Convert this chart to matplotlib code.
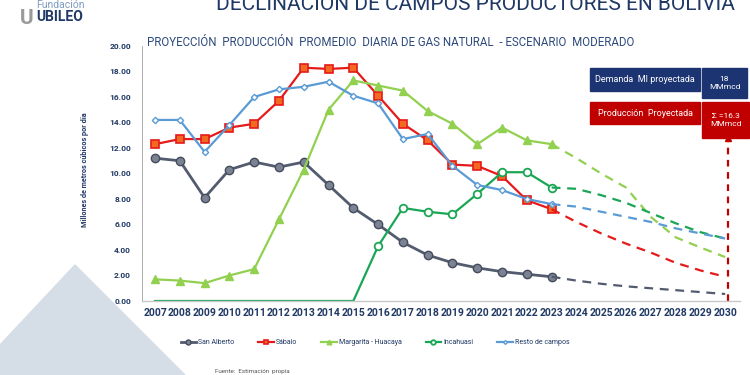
import matplotlib.pyplot as plt
from matplotlib.patches import Rectangle, Polygon

plt.rcParams['font.family'] = ['Roboto', 'DejaVu Sans']
plt.rcParams['font.stretch'] = 'condensed'

# datos historicos 2007-2023
years = list(range(2007, 2024))
san_alberto = [11.2, 11.0, 8.1, 10.3, 10.9, 10.5, 10.9, 9.1, 7.3, 6.0, 4.6, 3.6, 3.0, 2.6, 2.3, 2.1, 1.9]
sabalo = [12.3, 12.7, 12.7, 13.6, 13.9, 15.7, 18.3, 18.2, 18.3, 16.1, 13.9, 12.6, 10.7, 10.6, 9.8, 7.9, 7.2]
margarita = [1.7, 1.6, 1.4, 2.0, 2.5, 6.4, 10.3, 15.0, 17.3, 16.9, 16.5, 14.9, 13.9, 12.3, 13.6, 12.6, 12.3]
incahuasi = [0.0, 0.0, 0.0, 0.0, 0.0, 0.0, 0.0, 0.0, 0.0, 4.3, 7.3, 7.0, 6.8, 8.4, 10.1, 10.1, 8.9]
resto = [14.2, 14.2, 11.7, 13.8, 16.0, 16.6, 16.8, 17.2, 16.1, 15.5, 12.7, 13.1, 10.6, 9.1, 8.7, 8.0, 7.6]

# proyeccion 2023-2030
proj_years = list(range(2023, 2031))
san_alberto_p = [1.9, 1.6, 1.35, 1.15, 1.0, 0.85, 0.7, 0.55]
sabalo_p = [7.2, 6.2, 5.3, 4.5, 3.8, 3.0, 2.4, 1.9]
margarita_p = [12.3, 11.2, 10.0, 8.9, 6.6, 5.0, 4.2, 3.45]
incahuasi_p = [8.9, 8.8, 8.3, 7.7, 6.9, 6.1, 5.4, 4.9]
resto_p = [7.6, 7.4, 7.0, 6.6, 6.2, 5.7, 5.3, 4.9]

all_years = list(range(2007, 2031))
navy = '#1f3864'

fig = plt.figure(figsize=(7.5, 3.75), dpi=100)

# triangulo decorativo
tri = [(75, 265), (0, 345), (0, 375), (185, 375)]
fig.add_artist(Polygon([(x / 750, 1 - y / 375) for x, y in tri], closed=True,
                       transform=fig.transFigure, color='#d5dde6', zorder=0))

ax = fig.add_axes([142 / 750, 1 - 301 / 375, 598 / 750, 255 / 375])
ax.set_facecolor('none')

ax.plot(years, san_alberto, color='#535b6e', lw=2, marker='o', ms=6,
        mfc='#7a8294', mec='#454c5c', mew=1, label='San Alberto')
ax.plot(years, sabalo, color='#e51a1a', lw=1.6, marker='s', ms=5.5,
        mfc='#f26a22', mec='#e51a1a', mew=1.2, label='Sábalo')
ax.plot(years, margarita, color='#92d050', lw=1.6, marker='^', ms=5.5,
        mfc='#92d050', mec='#92d050', label='Margarita - Huacaya')
ax.plot(years, incahuasi, color='#1aa655', lw=1.6, marker='o', ms=5.5,
        mfc='white', mec='#1aa655', mew=1.3, markevery=list(range(9, 17)), label='Incahuasi')
ax.plot(years, resto, color='#5b9bd5', lw=1.6, marker='D', ms=3.2,
        mfc='white', mec='#5b9bd5', mew=1, label='Resto de campos')

dash = (4, 3)
ax.plot(proj_years, san_alberto_p, color='#535b6e', lw=1.6, dashes=dash)
ax.plot(proj_years, sabalo_p, color='#e51a1a', lw=1.6, dashes=dash)
ax.plot(proj_years, margarita_p, color='#92d050', lw=1.6, dashes=dash)
ax.plot(proj_years, incahuasi_p, color='#1aa655', lw=1.6, dashes=dash)
ax.plot(proj_years, resto_p, color='#5b9bd5', lw=1.6, dashes=dash)

# flecha roja vertical
ax.plot([2030.1, 2030.1], [0, 12.6], color='#c00000', lw=1.6, dashes=(3, 2.5), clip_on=False)
ax.plot([2030.1], [12.8], marker='^', color='#c00000', ms=4, clip_on=False)

ax.set_xlim(2006.475, 2030.6)
ax.set_ylim(0, 20)
ax.set_yticks([0, 2, 4, 6, 8, 10, 12, 14, 16, 18, 20])
ax.set_yticklabels(['%.2f' % v for v in ax.get_yticks()])
ax.set_xticks(all_years)
ax.set_xticklabels([str(y) for y in all_years])
ax.tick_params(axis='y', length=0, labelsize=6, labelcolor=navy, pad=8)
ax.tick_params(axis='x', length=0, labelsize=7.5, labelcolor=navy, pad=5)
for lbl in ax.get_xticklabels() + ax.get_yticklabels():
    lbl.set_fontweight('bold')
for s in ['top', 'right']:
    ax.spines[s].set_visible(False)
ax.spines['left'].set_color('#a0a0a0')
ax.spines['left'].set_linewidth(0.6)
ax.spines['bottom'].set_color('#c8c8c8')
ax.spines['bottom'].set_linewidth(1)

fig.text(85 / 750, 1 - 170 / 375, 'Millones de metros cúbicos por día', rotation=90,
         ha='center', va='center', fontsize=5.2, color=navy, fontweight='bold')

# titulos
fig.text(735 / 750, 1 - 5 / 375, 'DECLINACIÓN DE CAMPOS PRODUCTORES EN BOLIVIA',
         ha='right', va='center', fontsize=15, color=navy)
fig.text(147 / 750, 1 - 42 / 375,
         'PROYECCIÓN  PRODUCCIÓN  PROMEDIO  DIARIA DE GAS NATURAL  - ESCENARIO  MODERADO',
         ha='left', va='center', fontsize=8.3, color='#2e4a7d')

# logo
fig.text(36 / 750, 1 - 5 / 375, 'Fundación', ha='left', va='center', fontsize=7.5, color='#7f9cc0')
fig.text(36 / 750, 1 - 17 / 375, 'UBILEO', ha='left', va='center', fontsize=10,
         color=navy, fontweight='bold')
fig.text(20 / 750, 1 - 18 / 375, 'U', ha='left', va='center', fontsize=15,
         color='#9a9a9a', fontweight='bold')

# cajas
def box(x0, y0, x1, y1, color, text, fs):
    fig.add_artist(Rectangle((x0 / 750, 1 - y1 / 375), (x1 - x0) / 750, (y1 - y0) / 375,
                             transform=fig.transFigure, color=color, zorder=3))
    fig.text((x0 + x1) / 2 / 750, 1 - (y0 + y1) / 2 / 375, text, ha='center', va='center',
             fontsize=fs, color='white', zorder=4, linespacing=1.5)

box(590, 68, 700, 91, '#1c3472', 'Demanda  MI proyectada', 6.5)
box(702, 68, 747, 98, '#1c3472', '18\nMMmcd', 6)
box(590, 102, 700, 124, '#c00000', 'Producción  Proyectada', 6.5)
box(702, 102, 749, 138, '#c00000', 'Σ =16.3\nMMmcd', 6)

fig.legend(loc='center', bbox_to_anchor=(0.5, 1 - 343 / 375), ncol=5, frameon=False,
           fontsize=5, handlelength=2.2, columnspacing=3.5, markerscale=0.6,
           labelcolor=navy, handletextpad=0.3)

fig.text(215 / 750, 1 - 371 / 375, 'Fuente:  Estimación  propia', ha='left', va='center',
         fontsize=4.5, color='#555555')

fig.savefig('out.png', dpi=100)
